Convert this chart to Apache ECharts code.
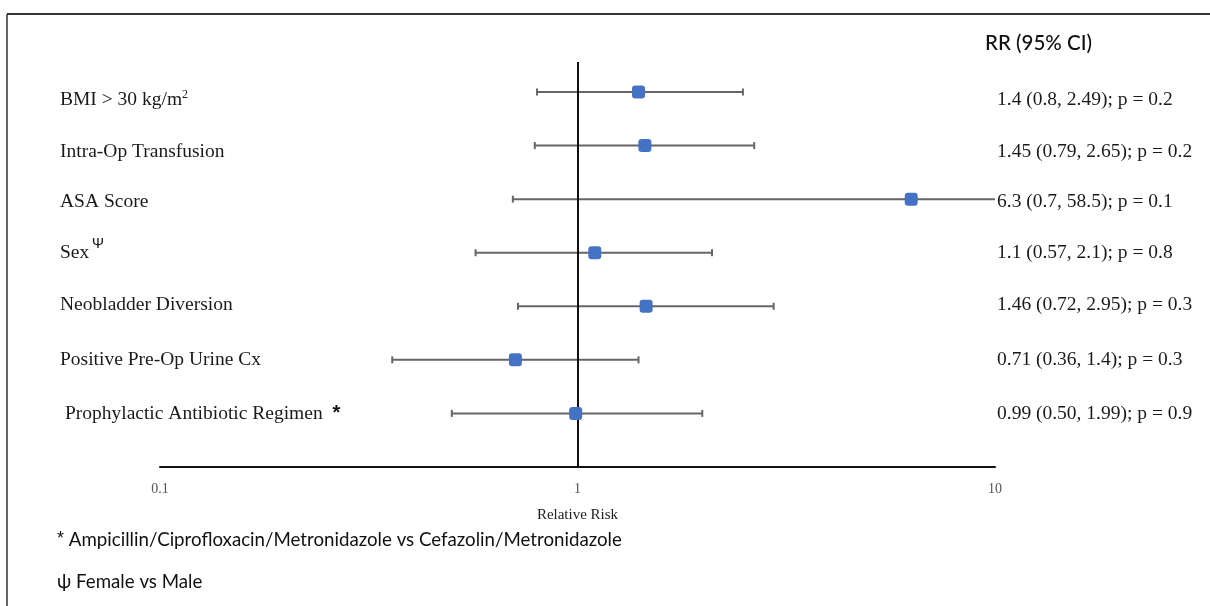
<!DOCTYPE html>
<html>
<head>
<meta charset="utf-8">
<script src="https://cdn.jsdelivr.net/npm/echarts@6/dist/echarts.min.js"></script>
<style>
html,body{margin:0;padding:0;background:#fff;}
#chart{width:1210px;height:606px;}
</style>
</head>
<body>
<div id="chart"></div>
<script>
// ---- Data ----
const categories = [
  'BMI > 30 kg/m{sup|2}',
  'Intra-Op Transfusion',
  'ASA Score',
  'Sex{psi|Ψ}',
  'Neobladder Diversion',
  'Positive Pre-Op Urine Cx',
  ' Prophylactic Antibiotic Regimen  {b|*}'
];
const rr     = [1.4, 1.45, 6.3, 1.1, 1.46, 0.71, 0.99];
const ciLow  = [0.8, 0.79, 0.7, 0.57, 0.72, 0.36, 0.50];
const ciHigh = [2.49, 2.65, 58.5, 2.1, 2.95, 1.4, 1.99];
const rrText = [
  '1.4 (0.8, 2.49); p = 0.2',
  '1.45 (0.79, 2.65); p = 0.2',
  '6.3 (0.7, 58.5); p = 0.1',
  '1.1 (0.57, 2.1); p = 0.8',
  '1.46 (0.72, 2.95); p = 0.3',
  '0.71 (0.36, 1.4); p = 0.3',
  '0.99 (0.50, 1.99); p = 0.9'
];
const xTickLabels = ['0.1', '1', '10'];
const rowIndex = categories.map((_, i) => i + 1);

// ---- Styling ----
const X_MIN = 0.1, X_MAX = 10;
const labelShiftY = [8, 6, 3, 0, -1, 0, 0];   // small vertical nudges of row texts (px)
const serif = '"Liberation Serif", "Times New Roman", serif';
const sans = 'Lato, "Liberation Sans", sans-serif';

const chart = echarts.init(document.getElementById('chart'));

function textEl(x, y, text, align, rich) {
  return {
    type: 'text',
    style: {
      x, y, text,
      fill: '#1a1a1a',
      font: '19.5px ' + serif,
      align, textAlign: align,
      verticalAlign: 'middle', textVerticalAlign: 'middle',
      rich: rich || {}
    }
  };
}

const leftRich = {
  sup: { fontFamily: serif, fontSize: 12, fill: '#1a1a1a', color: '#1a1a1a', verticalAlign: 'top', padding: [0, 0, 10, 0] },
  psi: { fontFamily: sans, fontSize: 14, fill: '#1a1a1a', color: '#1a1a1a', padding: [0, 0, 18, 3] },
  b: { fontFamily: '"Liberation Sans", sans-serif', fontSize: 20, fontWeight: 'bold', fill: '#111', color: '#111' }
};

chart.setOption({
  animation: false,
  grid: { left: 160, right: 215, top: 62, bottom: 139, outerBoundsMode: 'none' },
  xAxis: {
    type: 'log',
    logBase: 10,
    min: X_MIN,
    max: X_MAX,
    axisLine: { lineStyle: { color: '#111', width: 2 } },
    axisTick: { show: false },
    splitLine: { show: false },
    axisLabel: {
      margin: 15,
      fontFamily: serif,
      fontSize: 14,
      color: '#555',
      formatter: v => {
        const idx = Math.round(Math.log10(v) + 1);
        return xTickLabels[idx] !== undefined ? xTickLabels[idx] : '';
      }
    },
    name: 'Relative Risk',
    nameLocation: 'middle',
    nameGap: 41,
    nameTextStyle: { fontFamily: serif, fontSize: 15, color: '#222' }
  },
  yAxis: {
    type: 'value',
    inverse: true,
    min: 0.44,
    max: 8,
    axisLine: { show: false },
    axisTick: { show: false },
    axisLabel: { show: false },
    splitLine: { show: false }
  },
  series: [
    {
      // confidence-interval whiskers
      type: 'custom',
      clip: false,
      data: rowIndex.map((r, i) => [ciLow[i], ciHigh[i], r]),
      encode: { x: [0, 1], y: 2 },
      renderItem: (params, api) => {
        const lo = api.value(0), hi = api.value(1), y = api.value(2);
        const hiC = Math.min(hi, X_MAX);
        const p1 = api.coord([lo, y]);
        const p2 = api.coord([hiC, y]);
        const style = { stroke: '#666', lineWidth: 2 };
        const children = [
          { type: 'line', shape: { x1: p1[0], y1: p1[1], x2: p2[0], y2: p2[1] }, style },
          { type: 'line', shape: { x1: p1[0], y1: p1[1] - 3.5, x2: p1[0], y2: p1[1] + 3.5 }, style }
        ];
        if (hi <= X_MAX) {
          children.push({ type: 'line', shape: { x1: p2[0], y1: p2[1] - 3.5, x2: p2[0], y2: p2[1] + 3.5 }, style });
        }
        return { type: 'group', children };
      }
    },
    {
      // row labels (left) and RR text (right)
      type: 'custom',
      clip: false,
      silent: true,
      data: rowIndex.map(r => [X_MIN, r]),
      encode: { x: 0, y: 1 },
      renderItem: (params, api) => {
        const i = params.dataIndex;
        const row = api.value(1);
        const pL = api.coord([X_MIN, row]);
        const pR = api.coord([X_MAX, row]);
        const dy = labelShiftY[i];
        return {
          type: 'group',
          children: [
            textEl(pL[0] - 100, pL[1] + dy, categories[i], 'left', leftRich),
            textEl(pR[0] + 2, pR[1] + dy, rrText[i], 'left')
          ]
        };
      }
    },
    {
      type: 'scatter',
      symbol: 'roundRect',
      symbolSize: 13,
      itemStyle: { color: '#4472C4', opacity: 1 },
      z: 5,
      data: rowIndex.map((r, i) => [rr[i], r]),
      markLine: {
        silent: true,
        symbol: 'none',
        label: { show: false },
        lineStyle: { color: '#111', width: 2, type: 'solid' },
        data: [{ xAxis: 1 }]
      }
    }
  ],
  graphic: [
    { type: 'line', shape: { x1: 7, y1: 14, x2: 1210, y2: 14 }, style: { stroke: '#333', lineWidth: 2 } },
    { type: 'line', shape: { x1: 7, y1: 14, x2: 7, y2: 606 }, style: { stroke: '#333', lineWidth: 1.5 } },
    { type: 'text', left: 985, top: 33, style: { text: 'RR (95% CI)', font: '500 20.5px ' + sans, fill: '#111' } },
    { type: 'text', left: 57, top: 530, style: {
        text: '{a|*} Ampicillin/Ciprofloxacin/Metronidazole vs Cefazolin/Metronidazole',
        font: '18.7px ' + sans, fill: '#111',
        rich: { a: { fontFamily: '"Liberation Sans", sans-serif', fontSize: 18, fill: '#111', padding: [0, 0, 2, 0] } }
      } },
    { type: 'text', left: 57, top: 572, style: { text: 'ψ Female vs Male', font: '18.7px ' + sans, fill: '#111' } }
  ]
});
</script>
</body>
</html>
